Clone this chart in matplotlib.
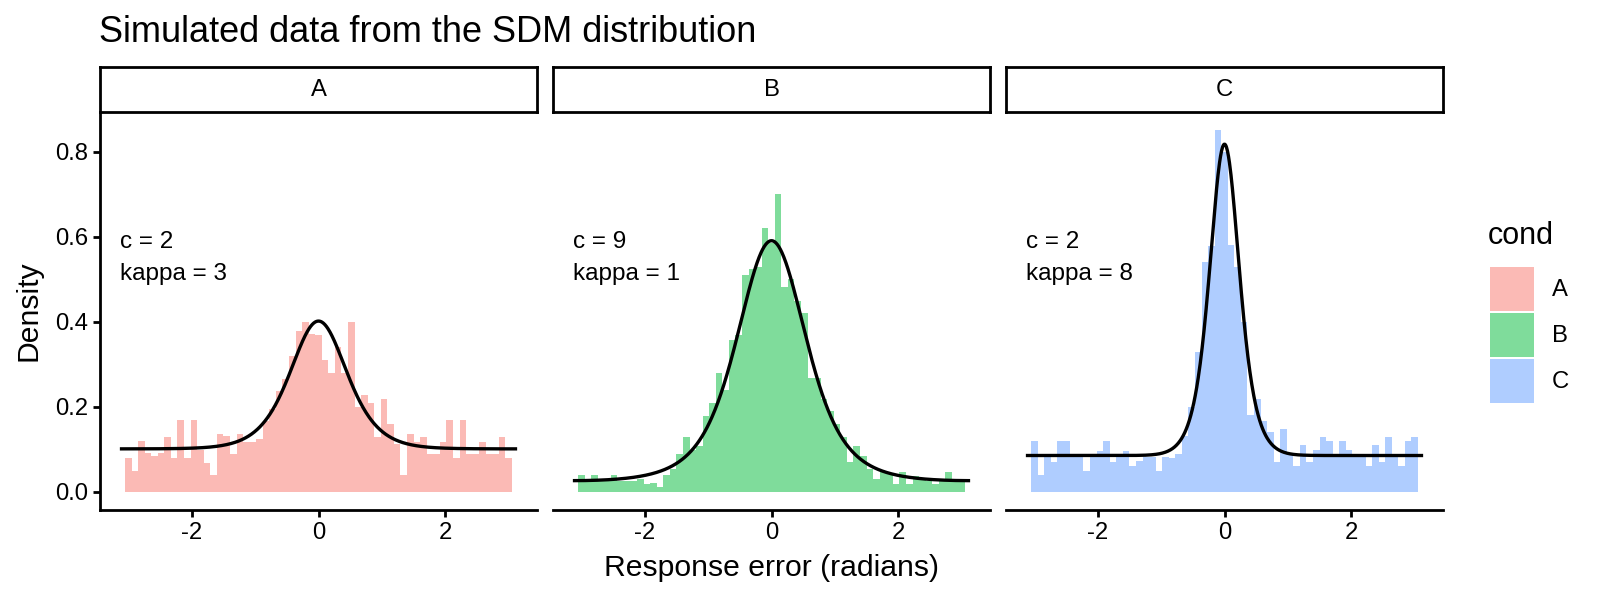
import numpy as np
import matplotlib
matplotlib.use("Agg")
import matplotlib.pyplot as plt
from matplotlib.patches import Patch

# ---------------- data ----------------
conds = ["A", "B", "C"]
c_vals = [2, 9, 2]
kappa_vals = [3, 1, 8]

# histogram densities (59 equal bins between bin_lo and bin_hi)
hist_A = [0.079, 0.049, 0.119, 0.091, 0.085, 0.091, 0.128, 0.079, 0.169, 0.079,
          0.169, 0.099, 0.069, 0.040, 0.137, 0.132, 0.089, 0.137, 0.118, 0.118,
          0.124, 0.167, 0.195, 0.238, 0.265, 0.319, 0.379, 0.399, 0.371, 0.369,
          0.310, 0.279, 0.340, 0.279, 0.400, 0.200, 0.228, 0.208, 0.129, 0.218,
          0.159, 0.112, 0.040, 0.137, 0.118, 0.129, 0.089, 0.089, 0.118, 0.169,
          0.079, 0.169, 0.089, 0.089, 0.118, 0.089, 0.089, 0.129, 0.079]
hist_B = [0.039, 0.026, 0.039, 0.026, 0.026, 0.039, 0.026, 0.026, 0.026, 0.030,
          0.019, 0.020, 0.012, 0.039, 0.053, 0.089, 0.128, 0.099, 0.108, 0.179,
          0.209, 0.279, 0.240, 0.358, 0.369, 0.510, 0.525, 0.530, 0.620, 0.585,
          0.700, 0.481, 0.500, 0.449, 0.420, 0.269, 0.269, 0.218, 0.191, 0.159,
          0.128, 0.071, 0.108, 0.085, 0.053, 0.030, 0.046, 0.042, 0.019, 0.047,
          0.019, 0.037, 0.030, 0.026, 0.019, 0.026, 0.047, 0.026, 0.030]
hist_C = [0.120, 0.039, 0.089, 0.071, 0.120, 0.120, 0.089, 0.089, 0.049, 0.089,
          0.096, 0.120, 0.071, 0.089, 0.097, 0.060, 0.073, 0.081, 0.081, 0.049,
          0.081, 0.080, 0.089, 0.131, 0.199, 0.329, 0.540, 0.579, 0.851, 0.800,
          0.580, 0.529, 0.400, 0.180, 0.218, 0.167, 0.140, 0.071, 0.149, 0.089,
          0.060, 0.110, 0.071, 0.098, 0.128, 0.120, 0.089, 0.120, 0.098, 0.089,
          0.089, 0.060, 0.110, 0.071, 0.128, 0.089, 0.060, 0.120, 0.128]
bin_lo, bin_hi = -3.06, 3.06

x_ticks = [-2, 0, 2]
y_ticks = [0.0, 0.2, 0.4, 0.6, 0.8]
y_ticklabels = ["0.0", "0.2", "0.4", "0.6", "0.8"]
colors = ["#F8766D", "#00BA38", "#619CFF"]

title = "Simulated data from the SDM distribution"
xlabel = "Response error (radians)"
ylabel = "Density"
legend_title = "cond"

# ---------------- style ----------------
plt.rcParams['font.family'] = ['Liberation Sans', 'DejaVu Sans']
W, H = 1600, 600
fig = plt.figure(figsize=(W / 100, H / 100), dpi=100)
fig.patch.set_facecolor("white")

FS_TITLE = 26.0
FS_AXIS = 21.7
FS_TICK = 17.2
FS_ANN = 17.5
FS_LEGT = 22.0
LW_AX = 2.0


def sdm_density(x, c, kappa):
    """SDM density (sqrt-exp parametrisation) for the parameters shown in each panel."""
    cs = c * np.sqrt(kappa / (2 * np.pi))
    grid = np.linspace(-np.pi, np.pi, 4001)
    z = np.trapezoid(np.exp(cs * np.exp(kappa * (np.cos(grid) - 1))), grid)
    return np.exp(cs * np.exp(kappa * (np.cos(x) - 1))) / z


xs = np.linspace(-np.pi, np.pi, 801)
hists = [hist_A, hist_B, hist_C]
curves = [sdm_density(xs, c, k) for c, k in zip(c_vals, kappa_vals)]

ymax = max(max(max(h) for h in hists), max(cv.max() for cv in curves))
xmin_d = min(bin_lo, xs.min())
xmax_d = max(bin_hi, xs.max())
xr = xmax_d - xmin_d

panel_lefts = [100, 553, 1006]
pw = 437
ptop, pbot = 112, 510
strip_top = 67

for i, cond in enumerate(conds):
    l = panel_lefts[i]
    ax = fig.add_axes([l / W, (H - pbot) / H, pw / W, (pbot - ptop) / H])
    h = np.array(hists[i])
    edges = np.linspace(bin_lo, bin_hi, len(h) + 1)
    ax.bar(edges[:-1], h, width=np.diff(edges), align='edge',
           color=colors[i], alpha=0.5, linewidth=0)
    ax.plot(xs, curves[i], color='black', lw=2.4, solid_capstyle='butt')
    ax.text(-np.pi, 0.55, f"c = {c_vals[i]}\nkappa = {kappa_vals[i]}",
            ha='left', va='center', fontsize=FS_ANN, linespacing=1.62)

    ax.set_xlim(xmin_d - 0.05 * xr, xmax_d + 0.05 * xr)
    ax.set_ylim(-0.05 * ymax, ymax * 1.05)
    ax.set_xticks(x_ticks)
    ax.set_xticklabels([str(t) for t in x_ticks])
    ax.set_yticks(y_ticks)
    ax.set_yticklabels(y_ticklabels)
    for s in ["top", "right"]:
        ax.spines[s].set_visible(False)
    ax.spines["bottom"].set_linewidth(LW_AX)
    ax.spines["left"].set_linewidth(LW_AX)
    ax.tick_params(direction='out', length=5.3, width=LW_AX, pad=3.5,
                   labelsize=FS_TICK, colors='black')
    if i > 0:
        ax.spines["left"].set_visible(False)
        ax.tick_params(axis='y', left=False, labelleft=False)
    ax.set_facecolor('none')

    # strip
    sax = fig.add_axes([l / W, (H - ptop) / H, pw / W, (ptop - strip_top) / H])
    sax.set_xticks([])
    sax.set_yticks([])
    for s in sax.spines.values():
        s.set_linewidth(LW_AX)
        s.set_color('black')
    sax.text(0.5, 0.5, cond, ha='center', va='center', fontsize=FS_TICK,
             transform=sax.transAxes)

fig.text(99 / W, 1 - 42 / H, title, ha='left', va='baseline', fontsize=FS_TITLE)
fig.text((panel_lefts[0] + panel_lefts[-1] + pw) / 2 / W, 1 - 568 / H, xlabel,
         ha='center', va='center', fontsize=FS_AXIS)
fig.text(29 / W, 1 - (ptop + pbot) / 2 / H, ylabel, ha='center', va='center',
         rotation=90, fontsize=FS_AXIS)

# legend
fig.text(1488 / W, 1 - 236 / H, legend_title, ha='left', va='center',
         fontsize=FS_LEGT)
handles = [Patch(facecolor=col, alpha=0.5, edgecolor='none') for col in colors]
fig.legend(handles=handles, labels=conds, loc='upper left',
           bbox_to_anchor=(1490 / W, 1 - 267 / H), frameon=False,
           fontsize=FS_TICK, handlelength=1.83, handleheight=2.45,
           labelspacing=0.09, handletextpad=0.75,
           borderpad=0, borderaxespad=0)

fig.savefig("out.png", dpi=100)
